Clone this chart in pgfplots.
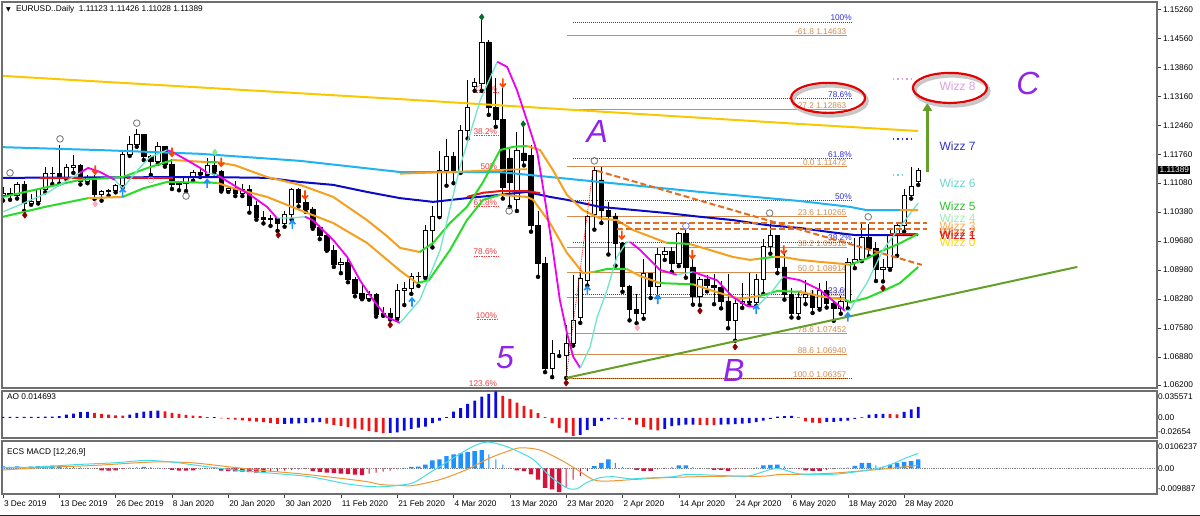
\documentclass[border=0pt]{standalone}
\usepackage{pgfplots}
\pgfplotsset{compat=1.18}
\usepackage{pgfplotstable}
\usepackage{fontspec}
\setmainfont{Liberation Sans}
\newfontfamily\dejavu{DejaVu Sans}
\usetikzlibrary{arrows.meta}

\newcommand{\mtf}{\fontsize{8.3}{10}\selectfont}
\newcommand{\fibf}{\fontsize{8.3}{9}\selectfont}
\newcommand{\wzf}{\fontsize{12}{13}\selectfont}
\newcommand{\bigf}{\fontsize{32}{32}\selectfont\itshape}

\definecolor{maYellow}{RGB}{250,200,0}
\definecolor{maCyan}{RGB}{30,180,240}
\definecolor{maBlue}{RGB}{10,10,200}
\definecolor{maRed}{RGB}{235,20,20}
\definecolor{bandOr}{RGB}{245,160,30}
\definecolor{bandGr}{RGB}{40,220,40}
\definecolor{fastAq}{RGB}{110,230,200}
\definecolor{fastMg}{RGB}{240,0,240}
\definecolor{fibOr}{RGB}{210,140,80}
\definecolor{fibBl}{RGB}{50,50,220}
\definecolor{fibRd}{RGB}{240,60,60}
\definecolor{dashOr}{RGB}{225,110,30}
\definecolor{trendGr}{RGB}{100,160,40}
\definecolor{lblPurple}{RGB}{145,35,235}
\definecolor{aoBlue}{RGB}{10,10,230}
\definecolor{aoRed}{RGB}{240,20,20}
\definecolor{hBlue}{RGB}{30,144,255}
\definecolor{hRed}{RGB}{210,20,60}
\definecolor{mCyan}{RGB}{70,220,230}
\definecolor{mOr}{RGB}{240,150,50}
\definecolor{frameC}{RGB}{110,110,110}
\definecolor{darkRed}{RGB}{140,0,0}
\definecolor{darkGreen}{RGB}{0,110,40}
\definecolor{pinkM}{RGB}{255,170,190}
\definecolor{arrBlue}{RGB}{30,144,255}
\definecolor{arrRed}{RGB}{255,69,0}
\definecolor{wz8}{RGB}{221,160,221}
\definecolor{wz7}{RGB}{50,50,200}
\definecolor{wz6}{RGB}{110,215,210}
\definecolor{wz5}{RGB}{40,200,40}
\definecolor{wz4}{RGB}{160,235,180}
\definecolor{wz3}{RGB}{255,170,80}
\definecolor{wz2}{RGB}{235,100,20}
\definecolor{wz1}{RGB}{220,0,0}
\definecolor{wz0}{RGB}{255,215,0}

\pgfdeclareplotmark{uarr}{%
  \pgfsetlinewidth{1.6pt}%
  \pgfpathmoveto{\pgfqpoint{0pt}{-4.5pt}}\pgfpathlineto{\pgfqpoint{0pt}{3pt}}%
  \pgfpathmoveto{\pgfqpoint{-3pt}{0.5pt}}\pgfpathlineto{\pgfqpoint{0pt}{4pt}}\pgfpathlineto{\pgfqpoint{3pt}{0.5pt}}%
  \pgfusepathqstroke}
\pgfdeclareplotmark{darr}{%
  \pgfsetlinewidth{1.6pt}%
  \pgfpathmoveto{\pgfqpoint{0pt}{4.5pt}}\pgfpathlineto{\pgfqpoint{0pt}{-3pt}}%
  \pgfpathmoveto{\pgfqpoint{-3pt}{-0.5pt}}\pgfpathlineto{\pgfqpoint{0pt}{-4pt}}\pgfpathlineto{\pgfqpoint{3pt}{-0.5pt}}%
  \pgfusepathqstroke}

\pgfplotstableread{
i o h l c
0 1.1078 1.1097 1.1065 1.1082
1 1.1082 1.1096 1.1067 1.1078
2 1.1078 1.1110 1.1070 1.1104
3 1.1104 1.1112 1.1040 1.1058
4 1.1058 1.1080 1.1055 1.1064
5 1.1064 1.1096 1.1058 1.1093
6 1.1093 1.1145 1.1085 1.1130
7 1.1130 1.1145 1.1105 1.1131
8 1.1131 1.1199 1.1106 1.1122
9 1.1122 1.1153 1.1117 1.1144
10 1.1144 1.1175 1.1132 1.1150
11 1.1150 1.1153 1.1104 1.1112
12 1.1112 1.1128 1.1107 1.1121
13 1.1121 1.1127 1.1069 1.1079
14 1.1079 1.1091 1.1065 1.1088
15 1.1088 1.1094 1.1077 1.1089
16 1.1089 1.1104 1.1085 1.1101
17 1.1101 1.1188 1.1097 1.1177
18 1.1177 1.1220 1.1173 1.1200
19 1.1200 1.1239 1.1195 1.1225
20 1.1225 1.1226 1.1163 1.1171
21 1.1171 1.1174 1.1127 1.1160
22 1.1160 1.1206 1.1154 1.1196
23 1.1196 1.1198 1.1147 1.1152
24 1.1152 1.1166 1.1093 1.1105
25 1.1105 1.1113 1.1090 1.1106
26 1.1106 1.1124 1.1088 1.1121
27 1.1121 1.1140 1.1113 1.1134
28 1.1134 1.1143 1.1122 1.1128
29 1.1128 1.1168 1.1125 1.1150
30 1.1150 1.1173 1.1131 1.1136
31 1.1136 1.1139 1.1087 1.1090
32 1.1090 1.1101 1.1086 1.1095
33 1.1095 1.1113 1.1076 1.1082
34 1.1082 1.1104 1.1076 1.1093
35 1.1093 1.1102 1.1036 1.1054
36 1.1054 1.1063 1.1019 1.1025
37 1.1025 1.1039 1.1010 1.1020
38 1.1020 1.1030 1.1004 1.1021
39 1.1021 1.1024 1.0992 1.1011
40 1.1011 1.1040 1.1002 1.1031
41 1.1031 1.1096 1.1019 1.1093
42 1.1093 1.1096 1.1051 1.1060
43 1.1060 1.1068 1.1038 1.1045
44 1.1045 1.1050 1.0997 1.1000
45 1.1000 1.1006 1.0972 1.0980
46 1.0980 1.0987 1.0944 1.0945
47 1.0945 1.0957 1.0905 1.0910
48 1.0910 1.0927 1.0890 1.0915
49 1.0915 1.0925 1.0868 1.0874
50 1.0874 1.0880 1.0834 1.0841
51 1.0841 1.0862 1.0827 1.0830
52 1.0830 1.0847 1.0826 1.0838
53 1.0838 1.0841 1.0785 1.0791
54 1.0791 1.0808 1.0787 1.0792
55 1.0792 1.0806 1.0778 1.0782
56 1.0782 1.0863 1.0779 1.0848
57 1.0848 1.0868 1.0813 1.0853
58 1.0853 1.0891 1.0840 1.0882
59 1.0882 1.0892 1.0859 1.0881
60 1.0881 1.1006 1.0878 1.0994
61 1.0994 1.1053 1.0952 1.1027
62 1.1027 1.1185 1.1025 1.1138
63 1.1138 1.1214 1.1101 1.1172
64 1.1172 1.1182 1.1107 1.1136
65 1.1136 1.1247 1.1132 1.1235
66 1.1235 1.1356 1.1215 1.1290
67 1.1340 1.1362 1.1330 1.1350
68 1.1349 1.1500 1.1330 1.1448
69 1.1448 1.1452 1.1272 1.1289
70 1.1289 1.1361 1.1243 1.1260
71 1.1260 1.1337 1.1070 1.1096
72 1.1168 1.1194 1.1050 1.1110
73 1.1067 1.1230 1.1040 1.1187
74 1.1180 1.1243 1.1150 1.1163
75 1.1175 1.1200 1.0990 1.1006
76 1.1006 1.1040 1.0881 1.0914
77 1.0914 1.0930 1.0651 1.0661
78 1.0661 1.0729 1.0639 1.0697
79 1.0697 1.0705 1.0690 1.0697
80 1.0691 1.0765 1.0637 1.0721
81 1.0721 1.0885 1.0715 1.0777
82 1.0782 1.0890 1.0770 1.0878
83 1.0873 1.1030 1.0860 1.1026
84 1.1032 1.1147 1.0995 1.1139
85 1.1115 1.1146 1.1011 1.1042
86 1.1042 1.1062 1.0935 1.1028
87 1.1028 1.1034 1.0908 1.0962
88 1.0962 1.0964 1.0845 1.0857
89 1.0857 1.0862 1.0776 1.0803
90 1.0803 1.0840 1.0769 1.0793
91 1.0793 1.0925 1.0780 1.0890
92 1.0890 1.0891 1.0830 1.0857
93 1.0857 1.0951 1.0832 1.0935
94 1.0935 1.0952 1.0922 1.0942
95 1.0942 1.0952 1.0893 1.0914
96 1.0914 1.0990 1.0907 1.0985
97 1.0985 1.0993 1.0879 1.0905
98 1.0905 1.0924 1.0814 1.0835
99 1.0835 1.0880 1.0813 1.0876
100 1.0876 1.0886 1.0846 1.0861
101 1.0861 1.0887 1.0815 1.0856
102 1.0856 1.0870 1.0805 1.0823
103 1.0823 1.0887 1.0757 1.0775
104 1.0775 1.0830 1.0727 1.0818
105 1.0818 1.0866 1.0806 1.0823
106 1.0823 1.0890 1.0813 1.0820
107 1.0820 1.0888 1.0811 1.0875
108 1.0875 1.0973 1.0840 1.0955
109 1.0955 1.1019 1.0937 1.0982
110 1.0982 1.0983 1.0890 1.0905
111 1.0905 1.0935 1.0826 1.0838
112 1.0838 1.0855 1.0783 1.0794
113 1.0794 1.0846 1.0782 1.0832
114 1.0832 1.0874 1.0815 1.0838
115 1.0838 1.0850 1.0794 1.0808
116 1.0808 1.0865 1.0802 1.0849
117 1.0849 1.0870 1.0807 1.0817
118 1.0817 1.0823 1.0775 1.0804
119 1.0804 1.0835 1.0792 1.0821
120 1.0821 1.0927 1.0805 1.0915
121 1.0915 1.0975 1.0902 1.0922
122 1.0922 1.1009 1.0919 1.0977
123 1.0977 1.1008 1.0931 1.0950
124 1.0950 1.0965 1.0871 1.0899
125 1.0899 1.0925 1.0870 1.0905
126 1.0905 1.0996 1.0898 1.0980
127 1.0980 1.1009 1.0932 1.1006
128 1.1006 1.1093 1.0990 1.1078
129 1.1078 1.1147 1.1070 1.1100
130 1.11123 1.11426 1.11028 1.11389
}\candles

\pgfplotsset{
  mtbase/.style={scale only axis, width=1155pt, xmin=-0.142, xmax=163.92,
    anchor=south west, clip mode=individual, scaled ticks=false,
    axis line style={draw=frameC, line width=1.2pt},
    tick style={draw=black!75, line width=0.6pt}, tick align=outside,
    yticklabel style={font=\mtf, anchor=west, xshift=-1.5pt},
    xtick=\empty},
  mainy/.style={at={(2pt,128pt)}, height=386pt, ymin=1.06128, ymax=1.15444},
}
\tikzset{
  fo/.style={anchor=south east, inner sep=0.6pt, font=\fibf, text=fibOr},
  fb/.style={anchor=south east, inner sep=0.8pt, font=\fibf, text=fibBl},
  fr/.style={anchor=south east, inner sep=0.6pt, font=\fibf, text=fibRd},
  wz/.style={anchor=west, inner sep=0pt, font=\wzf},
}

\begin{document}
\begin{tikzpicture}[x=1pt,y=1pt]
\useasboundingbox (0,0) rectangle (1200,516);
\fill[white] (0,0) rectangle (1200,516);

% ---------- layer 1: fibonacci objects and wicks
\begin{axis}[mtbase, mainy, hide axis]
\addplot[fibOr, line width=0.8pt] coordinates {(80.1,1.14633) (119.9,1.14633)};
\addplot[fibOr, line width=0.8pt] coordinates {(80.1,1.12863) (119.9,1.12863)};
\addplot[fibOr, line width=0.8pt] coordinates {(80.1,1.11472) (119.9,1.11472)};
\addplot[fibOr, line width=0.8pt] coordinates {(80.1,1.10265) (119.9,1.10265)};
\addplot[fibOr, line width=0.8pt] coordinates {(80.1,1.09518) (119.9,1.09518)};
\addplot[fibOr, line width=0.8pt] coordinates {(80.1,1.08914) (119.9,1.08914)};
\addplot[fibOr, line width=0.8pt] coordinates {(80.1,1.08311) (119.9,1.08311)};
\addplot[fibOr, line width=0.8pt] coordinates {(80.1,1.07452) (119.9,1.07452)};
\addplot[fibOr, line width=0.8pt] coordinates {(80.1,1.06940) (119.9,1.06940)};
\addplot[fibOr, line width=0.8pt] coordinates {(80.1,1.06357) (119.9,1.06357)};
\node[fo] at (axis cs:119.9,1.14633) {-61.8 1.14633};
\node[fo] at (axis cs:119.9,1.12863) {-27.2 1.12863};
\node[fo] at (axis cs:119.9,1.11472) {0.0 1.11472};
\node[fo] at (axis cs:119.9,1.10265) {23.6 1.10265};
\node[fo] at (axis cs:119.9,1.09518) {38.2 1.09518};
\node[fo] at (axis cs:119.9,1.08914) {50.0 1.08914};
\node[fo] at (axis cs:119.9,1.08311) {61.8 1.08311};
\node[fo] at (axis cs:119.9,1.07452) {78.6 1.07452};
\node[fo] at (axis cs:119.9,1.06940) {88.6 1.06940};
\node[fo] at (axis cs:119.9,1.06357) {100.0 1.06357};
\addplot[fibBl, densely dotted, line width=1pt] coordinates {(81,1.1496) (120.7,1.1496)};
\addplot[fibBl, densely dotted, line width=1pt] coordinates {(81,1.1312) (120.7,1.1312)};
\addplot[fibBl, densely dotted, line width=1pt] coordinates {(81,1.1167) (120.7,1.1167)};
\addplot[fibBl, densely dotted, line width=1pt] coordinates {(81,1.1066) (120.7,1.1066)};
\addplot[fibBl, densely dotted, line width=1pt] coordinates {(81,1.0965) (120.7,1.0965)};
\addplot[fibBl, densely dotted, line width=1pt] coordinates {(81,1.0839) (120.7,1.0839)};
\addplot[fibBl, densely dotted, line width=1pt] coordinates {(81,1.0636) (120.7,1.0636)};
\node[fb] at (axis cs:120.7,1.1496) {100\%};
\node[fb] at (axis cs:120.7,1.1312) {78.6\%};
\node[fb] at (axis cs:120.7,1.1167) {61.8\%};
\node[fb] at (axis cs:120.7,1.1066) {50\%};
\node[fb] at (axis cs:120.7,1.0965) {38.2\%};
\node[fb] at (axis cs:120.7,1.0839) {23.6\%};
\node[fr] at (axis cs:70.3,1.13266) {23.6\%};
\node[fr] at (axis cs:70.3,1.12217) {38.2\%};
\node[fr] at (axis cs:70.3,1.11370) {50\%};
\node[fr] at (axis cs:70.3,1.10523) {61.8\%};
\node[fr] at (axis cs:70.3,1.09317) {78.6\%};
\node[fr] at (axis cs:70.3,1.07780) {100\%};
\node[fr] at (axis cs:70.3,1.06140) {123.6\%};
\addplot[fibRd, densely dotted, line width=0.7pt] coordinates {(66.9,1.13266) (70.3,1.13266)};
\addplot[fibRd, densely dotted, line width=0.7pt] coordinates {(66.9,1.12217) (70.3,1.12217)};
\addplot[fibRd, densely dotted, line width=0.7pt] coordinates {(67.9,1.11370) (70.3,1.11370)};
\addplot[fibRd, densely dotted, line width=0.7pt] coordinates {(66.9,1.10523) (70.3,1.10523)};
\addplot[fibRd, densely dotted, line width=0.7pt] coordinates {(66.9,1.09317) (70.3,1.09317)};
\addplot[fibRd, densely dotted, line width=0.7pt] coordinates {(67.3,1.07780) (70.3,1.07780)};
\addplot[only marks, mark=none, error bars/.cd, y dir=plus, y explicit, error mark=none,
  error bar style={draw=black, line width=1pt, solid}]
  table[x=i, y=l, y error expr=\thisrow{h}-\thisrow{l}] {\candles};
\end{axis}

% ---------- layer 2: candle bodies
\begin{axis}[mtbase, mainy, hide axis, ybar stacked, bar width=4.4pt]
\addplot[draw=none, fill=none] table[x=i, y expr={min(\thisrow{o},\thisrow{c})}] {\candles};
\addplot[draw=black, fill=white, line width=0.8pt] table[x=i, y expr={max(\thisrow{c}-\thisrow{o},0)}] {\candles};
\addplot[draw=black, fill=black, line width=0.8pt] table[x=i, y expr={max(\thisrow{o}-\thisrow{c},0)}] {\candles};
\end{axis}

% ---------- layer 3: indicators, annotations, frame, price scale
\begin{axis}[mtbase, mainy, ytick pos=right, yticklabel pos=right, major tick length=4pt,
  ytick={1.062,1.0688,1.0758,1.0828,1.0898,1.0968,1.1038,1.1108,1.1176,1.1246,1.1316,1.1386,1.1456,1.1526},
  yticklabels={1.06200,1.06880,1.07580,1.08280,1.08980,1.09680,1.10380,1.11080,1.11760,1.12460,1.13160,1.13860,1.14560,1.15260}]
\addplot[maYellow, line width=2pt] coordinates {(0,1.1366) (56.4,1.1310) (113.2,1.1250) (130,1.1233)};
\addplot[maCyan, line width=2pt] coordinates {(0,1.1194) (13.8,1.1187) (28,1.1178) (42.2,1.1161) (56.4,1.1134) (70.6,1.1134) (84.8,1.1110) (99,1.1086) (113.2,1.1064) (120.3,1.1050) (122.7,1.1042) (130,1.1042)};
\addplot[bandOr, line width=1.8pt] coordinates {(56.4,1.1130) (63.5,1.1134) (70.6,1.1139) (74.4,1.1141)};
\addplot[maBlue, line width=2pt] coordinates {(0,1.1120) (28,1.1122) (37.5,1.1120) (42.2,1.1110) (46.9,1.1103) (51.7,1.1086) (56.4,1.1071) (61.1,1.1062) (65.9,1.1071) (70.6,1.1079) (74.4,1.1086) (77.7,1.1074) (80.1,1.1067) (84.8,1.1050) (94.3,1.1035) (99,1.1026) (103.7,1.1018) (108.5,1.1006) (113.2,1.0999) (117.5,1.0989) (121,1.0982) (130,1.0982)};
\addplot[maRed, line width=2pt] coordinates {(5.3,1.1119) (11.4,1.1119)};
\addplot[maRed, line width=2pt] coordinates {(17.6,1.1120) (24.1,1.1120)};
\addplot[maRed, line width=2pt] coordinates {(65.9,1.1074) (68.2,1.1084) (70.6,1.1088) (74.4,1.1088) (76.3,1.1083)};
\addplot[maRed, line width=2pt] coordinates {(126,1.0984) (130,1.0984)};
\addplot[bandGr, line width=2pt] coordinates {(0,1.1074) (10.9,1.1115) (17.0,1.1122) (20.9,1.1146) (24.1,1.1163)};
\addplot[bandOr, line width=2pt] coordinates {(24.1,1.1163) (29.0,1.1158)};
\addplot[bandGr, line width=2pt] coordinates {(29.0,1.1158) (30.4,1.1158)};
\addplot[bandOr, line width=2pt] coordinates {(30.4,1.1158) (33,1.1150) (37.5,1.1122) (42.2,1.1103) (46.9,1.1074) (51.7,1.1018) (54.5,1.0980) (56.4,1.0951) (59.2,1.0941)};
\addplot[bandGr, line width=2pt] coordinates {(59.2,1.0941) (61.1,1.0963) (63.5,1.1011) (65.9,1.1050) (68.2,1.1110) (70.6,1.1187) (72.5,1.1195) (74.4,1.1197)};
\addplot[bandOr, line width=2pt] coordinates {(74.4,1.1197) (76.3,1.1187) (78.1,1.1139) (80.1,1.1079) (82.4,1.1042) (84.8,1.1022) (87.2,1.1018) (89.5,1.0994) (94.3,1.0963)};
\addplot[bandGr, line width=2pt] coordinates {(94.3,1.0963) (96,1.0962) (97.6,1.0960)};
\addplot[bandOr, line width=2pt] coordinates {(97.6,1.0960) (99,1.0953) (103.7,1.0929) (106.1,1.0922) (107.5,1.0925)};
\addplot[bandGr, line width=2pt] coordinates {(107.5,1.0925) (109.4,1.0929)};
\addplot[bandOr, line width=2pt] coordinates {(109.4,1.0929) (110.8,1.0929) (113.2,1.0922) (116.1,1.0917) (119.6,1.0912) (120.3,1.0910)};
\addplot[bandGr, line width=2pt] coordinates {(120.3,1.0910) (122.7,1.0925) (124.6,1.0942) (127.4,1.0962) (130,1.0985)};
\addplot[bandGr, line width=2pt] coordinates {(0,1.1026) (6,1.1050) (12.1,1.1071)};
\addplot[bandOr, line width=2pt] coordinates {(12.1,1.1071) (17.0,1.1074)};
\addplot[bandGr, line width=2pt] coordinates {(17.0,1.1074) (20,1.1095) (23.3,1.1110) (30.4,1.1108)};
\addplot[bandOr, line width=2pt] coordinates {(30.4,1.1108) (32.7,1.1095) (37.5,1.1074) (42.2,1.1042) (46.9,1.1011) (51.7,1.0963) (56.4,1.0896) (58.8,1.0866)};
\addplot[bandGr, line width=2pt] coordinates {(58.8,1.0866) (60.5,1.0873) (63.5,1.0946) (65.9,1.1018) (68.2,1.1067) (70.6,1.1079)};
\addplot[bandOr, line width=2pt] coordinates {(70.6,1.1079) (74.4,1.1074) (75.3,1.1067) (77.7,1.1011) (80.1,1.0939) (82.4,1.0890) (84,1.0893)};
\addplot[bandGr, line width=2pt] coordinates {(84,1.0893) (85.8,1.0900) (88.6,1.0900)};
\addplot[bandOr, line width=2pt] coordinates {(88.6,1.0900) (90.5,1.0883) (93.3,1.0866)};
\addplot[bandGr, line width=2pt] coordinates {(93.3,1.0866) (98,1.0863)};
\addplot[bandOr, line width=2pt] coordinates {(98,1.0863) (101.8,1.0842) (104.7,1.0828) (107.5,1.0835)};
\addplot[bandGr, line width=2pt] coordinates {(107.5,1.0835) (110,1.0847) (113.2,1.0845)};
\addplot[bandOr, line width=2pt] coordinates {(113.2,1.0845) (116.1,1.0834) (119.6,1.0826)};
\addplot[bandGr, line width=2pt] coordinates {(119.6,1.0826) (120.3,1.0820) (122.7,1.0830) (125.0,1.0847) (127.4,1.0866) (130,1.0905)};
\addplot[fastAq, line width=1.3pt] coordinates {(0,1.1038) (2.4,1.1055) (6.2,1.1083) (10.9,1.1132)};
\addplot[fastMg, line width=1.8pt] coordinates {(10.9,1.1132) (12.1,1.1144) (13.8,1.1134) (15.9,1.1115)};
\addplot[fastAq, line width=1.3pt] coordinates {(15.9,1.1115) (17.0,1.1095) (19.5,1.1146) (20.9,1.1170) (23.3,1.1187)};
\addplot[fastMg, line width=1.8pt] coordinates {(23.3,1.1187) (24.1,1.1182) (26.1,1.1163) (28.0,1.1144) (29.0,1.1132)};
\addplot[fastAq, line width=1.3pt] coordinates {(29.0,1.1132) (30.4,1.1127)};
\addplot[fastMg, line width=1.8pt] coordinates {(30.4,1.1127) (32.7,1.1103) (35.1,1.1079) (37.5,1.1050) (38.9,1.1023)};
\addplot[fastAq, line width=1.3pt] coordinates {(38.9,1.1023) (40.8,1.1023) (42.9,1.1026)};
\addplot[fastMg, line width=1.8pt] coordinates {(42.9,1.1026) (44.0,1.1018) (46.9,1.0970) (48.9,1.0929) (50.7,1.0873) (52.6,1.0825) (54.5,1.0784) (56.4,1.0770)};
\addplot[fastAq, line width=1.3pt] coordinates {(56.4,1.0770) (59.2,1.0825) (62.1,1.0946) (64.9,1.1146) (67.8,1.1308) (70.2,1.1400)};
\addplot[fastMg, line width=1.8pt] coordinates {(70.2,1.1400) (71.6,1.1388) (73.0,1.1332) (74.4,1.1260) (75.9,1.1180) (76.7,1.1098) (78.1,1.0946) (79.1,1.0825) (80.1,1.0746) (81.0,1.0688) (82.0,1.0661)};
\addplot[fastAq, line width=1.3pt] coordinates {(82.0,1.0661) (83.4,1.0712) (84.4,1.0784) (85.8,1.0849) (87.2,1.0929) (88.6,1.0965) (89.1,1.0965)};
\addplot[fastMg, line width=1.8pt] coordinates {(89.1,1.0965) (90.5,1.0946) (93.3,1.0898) (95.7,1.0886)};
\addplot[fastAq, line width=1.3pt] coordinates {(95.7,1.0886) (98.0,1.0893)};
\addplot[fastMg, line width=1.8pt] coordinates {(98.0,1.0893) (101.4,1.0873) (103.7,1.0832) (105.7,1.0811) (107.0,1.0808)};
\addplot[fastAq, line width=1.3pt] coordinates {(107.0,1.0808) (109.4,1.0849) (110.8,1.0881)};
\addplot[fastMg, line width=1.8pt] coordinates {(110.8,1.0881) (113.2,1.0873) (116.1,1.0849) (119.6,1.0799)};
\addplot[fastAq, line width=1.3pt] coordinates {(119.6,1.0799) (120.3,1.0801) (122.7,1.0866) (125.0,1.0946) (127.4,1.1001) (130.0,1.1059)};
\addplot[trendGr, line width=2pt] coordinates {(80.0,1.0637) (152.6,1.0905)};
\addplot[dashOr, line width=2pt, dash pattern=on 6pt off 3pt] coordinates {(84.4,1.1137) (130.5,1.0910)};
\addplot[dashOr, line width=2pt, dash pattern=on 6pt off 3pt] coordinates {(87.2,1.1011) (131.3,1.1011)};
\addplot[dashOr, line width=2pt, dash pattern=on 6pt off 3pt] coordinates {(87.2,1.0997) (131.3,1.0997)};
\addplot[red, line width=0.8pt, densely dotted] coordinates {(80.0,1.0637) (83.8,1.1139)};
\addplot[wz8, line width=1.5pt, dash pattern=on 1.5pt off 3pt] coordinates {(126.4,1.1359) (129.1,1.1359)};
\addplot[wz7, line width=1.5pt, dash pattern=on 1.5pt off 3pt] coordinates {(126.4,1.1214) (129.1,1.1214)};
\addplot[wz6, line width=1.5pt, dash pattern=on 1.5pt off 3pt] coordinates {(126.4,1.1127) (128.2,1.1127)};
\addplot[bandOr, line width=1.5pt] coordinates {(127.4,1.1042) (130.0,1.1042)};
\addplot[only marks, mark=o, mark size=3.3pt, draw=gray, mark options={line width=0.9pt}] coordinates {(1.0,1.1132) (8.1,1.1214) (19.0,1.1252) (26.0,1.1076) (71.9,1.1040) (84.0,1.1161) (108.9,1.1035) (122.9,1.1026)};
\addplot[only marks, mark=o, mark size=3.3pt, draw={rgb,255:red,130;green,130;blue,230}, mark options={line width=0.9pt}] coordinates {(97.0,1.1004)};
\addplot[only marks, mark=diamond*, mark size=3.2pt, color=darkRed] coordinates {(3.1,1.1030) (39.1,1.0982) (55.0,1.0765) (80.0,1.0625) (99.0,1.0799) (104.0,1.0712) (125.0,1.0854)};
\addplot[only marks, mark=diamond*, mark size=3.2pt, color=darkGreen] coordinates {(68.0,1.1508) (73.9,1.1250)};
\addplot[only marks, mark=diamond*, mark size=3.2pt, color=pinkM] coordinates {(13.1,1.1057) (90.1,1.0758)};
\addplot[only marks, mark=diamond*, mark size=3.2pt, color={rgb,255:red,140;green,230;blue,140}] coordinates {(30.1,1.1182)};
\addplot[only marks, mark=o, mark size=3pt, color=pinkM] coordinates {(21.0,1.1115)};
\addplot[only marks, mark=uarr, color=arrBlue] coordinates {(17.0,1.1084) (29.0,1.1106) (41.1,1.1007) (58.1,1.0820) (83.0,1.0848) (93.0,1.0826) (107.0,1.0802) (120.0,1.0784)};
\addplot[only marks, mark=darr, color=arrRed] coordinates {(13.1,1.1139) (24.0,1.1182) (31.0,1.1158) (42.9,1.1079) (71.0,1.1349) (87.9,1.0982) (97.9,1.0935) (110.9,1.0946)};
\addplot[trendGr, line width=3pt, -{Triangle[length=8pt,width=9pt]}] coordinates {(131.3,1.1134) (131.3,1.1301)};
\draw[black!22, line width=3.5pt] ([xshift=2pt,yshift=-3pt]axis cs:117.2,1.1313) ellipse [x radius=37pt, y radius=15pt];
\draw[red!90!black, line width=2.2pt] (axis cs:117.2,1.1313) ellipse [x radius=37pt, y radius=15pt];
\draw[black!22, line width=3.5pt] ([xshift=2pt,yshift=-3pt]axis cs:134.5,1.1337) ellipse [x radius=37pt, y radius=15pt];
\draw[red!90!black, line width=2.2pt] (axis cs:134.5,1.1337) ellipse [x radius=37pt, y radius=15pt];
\node[font=\bigf, text=lblPurple] at (axis cs:84.4,1.1233) {A};
\node[font=\bigf, text=lblPurple] at (axis cs:103.8,1.0654) {B};
\node[font=\bigf, text=lblPurple] at (axis cs:71.3,1.0685) {5};
\node[font=\bigf, text=lblPurple] at (axis cs:145.6,1.1347) {C};
\node[wz, text=wz8] at (axis cs:133.0,1.1342) {Wizz 8};
\node[wz, text=wz7] at (axis cs:133.0,1.1197) {Wizz 7};
\node[wz, text=wz6] at (axis cs:133.0,1.1108) {Wizz 6};
\node[wz, text=wz5] at (axis cs:133.0,1.1052) {Wizz 5};
\node[wz, text=wz4] at (axis cs:133.0,1.1023) {Wizz 4};
\node[wz, text=wz3] at (axis cs:133.0,1.1003) {Wizz 3};
\node[wz, text=wz0] at (axis cs:133.0,1.0965) {Wizz 0};
\node[wz, text=wz2] at (axis cs:133.0,1.0990) {Wizz 2};
\node[wz, text=wz1] at (axis cs:133.0,1.0982) {Wizz 1};
\node[anchor=west, fill=black, text=white, font=\mtf, inner sep=1.4pt, xshift=1pt] at (axis cs:163.92,1.11389) {1.11389};
\end{axis}

% ---------- AO panel
\begin{axis}[mtbase, at={(2pt,78pt)}, height=47pt, ymin=-0.02654, ymax=0.035571,
  ytick pos=right, yticklabel pos=right, major tick length=2pt, ytick style={draw=none},
  yticklabel style={xshift=-3pt},
  ytick={-0.0185,0,0.0277}, yticklabels={-0.02654,0.00,0.035571}]
\addplot[ybar, bar shift=0pt, bar width=2.8pt, fill=aoBlue, draw=none] coordinates {(0,0.0015)(1,0.0014)(2,0.0015)(3,0.0013)(4,0.0014)(5,0.0015)(6,0.0016)(7,0.0017)(8,0.0022)(9,0.0044)(10,0.0057)(11,0.0075)(12,0.0079)(18,0.0044)(19,0.0066)(20,0.0084)(21,0.0092)(22,0.0097)(30,0.0012)(40,-0.0079)(41,-0.0077)(42,-0.0073)(43,-0.0066)(44,-0.0058)(45,-0.0055)(55,-0.0198)(56,-0.0190)(57,-0.0167)(58,-0.0145)(59,-0.0128)(60,-0.0114)(61,-0.0070)(62,-0.0035)(63,0.0010)(64,0.0084)(65,0.0128)(66,0.0185)(67,0.0229)(68,0.0282)(69,0.0317)(70,0.0350)(82,-0.0225)(83,-0.0158)(84,-0.0106)(85,-0.0040)(86,-0.0018)(87,-0.0010)(88,-0.0008)(94,-0.0145)(95,-0.0110)(96,-0.0097)(97,-0.0090)(98,-0.0088)(102,-0.0088)(103,-0.0085)(104,-0.0082)(105,-0.0075)(106,-0.0068)(107,-0.0055)(108,-0.0035)(109,-0.0013)(110,0.0018)(111,0.0024)(112,0.0026)(117,-0.0053)(118,-0.0052)(119,-0.0044)(120,-0.0035)(121,-0.0013)(122,0.0008)(123,0.0044)(124,0.0050)(125,0.0053)(128,0.0079)(129,0.0114)(130,0.0147)};
\addplot[ybar, bar shift=0pt, bar width=2.8pt, fill=aoRed, draw=none] coordinates {(13,0.0066)(14,0.0053)(15,0.0044)(16,0.0035)(17,0.0031)(23,0.0088)(24,0.0066)(25,0.0053)(26,0.0040)(27,0.0031)(28,0.0022)(29,0.0010)(31,-0.0006)(32,-0.0013)(33,-0.0022)(34,-0.0031)(35,-0.0040)(36,-0.0048)(37,-0.0057)(38,-0.0066)(39,-0.0080)(46,-0.0075)(47,-0.0092)(48,-0.0110)(49,-0.0123)(50,-0.0141)(51,-0.0154)(52,-0.0170)(53,-0.0189)(54,-0.0202)(71,0.0290)(72,0.0251)(73,0.0202)(74,0.0158)(75,0.0114)(76,0.0062)(77,0.0009)(78,-0.0070)(79,-0.0136)(80,-0.0194)(81,-0.0238)(89,-0.0030)(90,-0.0090)(91,-0.0120)(92,-0.0155)(93,-0.0165)(99,-0.0092)(100,-0.0094)(101,-0.0096)(113,0.0006)(114,-0.0045)(115,-0.0062)(116,-0.0064)(126,0.0050)(127,0.0046)};
\node[anchor=north west, font=\mtf, inner sep=0pt, xshift=5pt, yshift=-3pt] at (rel axis cs:0,1) {AO 0.014693};
\end{axis}

% ---------- MACD panel
\begin{axis}[mtbase, at={(2pt,22pt)}, height=53pt, ymin=-0.009887, ymax=0.0106237,
  ytick pos=right, yticklabel pos=right, ytick style={draw=none}, major tick length=4pt,
  yticklabel style={xshift=-5pt},
  ytick={-0.00797,0,0.00828}, yticklabels={-0.009887,0.00,0.0106237},
  xtick={0,8,...,128}, xtick pos=bottom,
  xticklabels={3 Dec 2019,13 Dec 2019,26 Dec 2019,8 Jan 2020,20 Jan 2020,30 Jan 2020,11 Feb 2020,21 Feb 2020,4 Mar 2020,13 Mar 2020,23 Mar 2020,2 Apr 2020,14 Apr 2020,24 Apr 2020,6 May 2020,18 May 2020,28 May 2020},
  xticklabel style={anchor=north west, font=\mtf, xshift=-2.5pt, yshift=1pt}]
\addplot[gray, densely dotted, line width=0.8pt] coordinates {(-0.142,0) (163.92,0)};
\addplot[ybar, bar shift=0pt, bar width=4.4pt, fill=hBlue, draw=none] coordinates {(0,0.0008)(1,0.0006)(2,0.0008)(4,0.0007)(5,0.0009)(6,0.0010)(7,0.0011)(8,0.0010)(20,0.0006)(58,0.0006)(59,0.0007)(60,0.0015)(61,0.0031)(62,0.0035)(63,0.0048)(64,0.0054)(65,0.0058)(66,0.0063)(67,0.0067)(68,0.0071)(84,0.0009)(85,0.0022)(86,0.0035)(96,0.0012)(97,0.0012)(108,0.0012)(109,0.0014)(110,0.0015)(121,0.0010)(122,0.0022)(123,0.0022)(126,0.0015)(127,0.0022)(128,0.0025)(129,0.0028)(130,0.0035)};
\addplot[ybar, bar shift=0pt, bar width=1pt, fill=hBlue, draw=none] coordinates {(3,0.0005)(9,0.0008)(10,0.0006)(11,0.0004)(12,0.0002)(18,0.0003)(19,0.0005)(21,0.0005)(22,0.0003)(57,0.0002)(69,0.0054)(70,0.0035)(71,0.0015)(72,0.0002)(87,0.0022)(88,0.0006)(89,0.0002)(95,0.0006)(98,0.0006)(99,0.0002)(106,0.0001)(107,0.0004)(111,0.0008)(112,0.0002)(119,0.0002)(120,0.0004)(124,0.0012)(125,0.0008)};
\addplot[ybar, bar shift=0pt, bar width=4.4pt, fill=hRed, draw=none] coordinates {(14,-0.0007)(15,-0.0008)(16,-0.0007)(24,-0.0006)(25,-0.0008)(26,-0.0008)(27,-0.0007)(31,-0.0008)(32,-0.0010)(33,-0.0011)(34,-0.0012)(35,-0.0014)(36,-0.0016)(37,-0.0016)(44,-0.0010)(45,-0.0013)(46,-0.0016)(47,-0.0018)(48,-0.0020)(49,-0.0022)(50,-0.0024)(51,-0.0026)(73,-0.0007)(74,-0.0010)(75,-0.0023)(76,-0.0043)(77,-0.0075)(78,-0.0081)(79,-0.0092)(90,-0.0006)(91,-0.0009)(92,-0.0009)(101,-0.0006)(102,-0.0006)(103,-0.0009)(114,-0.0007)(115,-0.0009)(116,-0.0009)};
\addplot[ybar, bar shift=0pt, bar width=1pt, fill=hRed, draw=none] coordinates {(13,-0.0002)(17,-0.0003)(23,-0.0003)(28,-0.0005)(29,-0.0003)(30,-0.0002)(38,-0.0012)(39,-0.0010)(40,-0.0008)(41,-0.0006)(42,-0.0004)(43,-0.0003)(52,-0.0020)(53,-0.0016)(54,-0.0012)(55,-0.0008)(56,-0.0004)(80,-0.0075)(81,-0.0043)(82,-0.0030)(83,-0.0010)(93,-0.0004)(94,-0.0002)(100,-0.0003)(104,-0.0004)(105,-0.0002)(113,-0.0003)(117,-0.0006)(118,-0.0003)};
\addplot[mOr, line width=1pt, smooth] coordinates {(0,-0.0006)(6,0.0004)(13.2,0.0012)(21.3,0.0025)(26.8,0.0022)(32.2,0.0006)(37,-0.0008)(43,-0.0023)(51.2,-0.0049)(53.6,-0.0062)(56.6,-0.0066)(58.3,-0.0066)(62.1,-0.0043)(65.9,-0.0004)(69.2,0.0041)(72.5,0.0074)(73.9,0.0080)(76.3,0.0071)(79.1,0.0035)(81.5,-0.0004)(83.8,-0.0043)(85.7,-0.0049)(89.5,-0.0043)(93.8,-0.0036)(98.5,-0.0032)(103.3,-0.0030)(108,-0.0030)(110.4,-0.0023)(113,-0.0023)(117.4,-0.0019)(121.7,-0.0010)(125.5,-0.0001)(130,0.0012)};
\addplot[mCyan, line width=1pt, smooth] coordinates {(0,0.0003)(5,0.0006)(10.5,0.0015)(15.9,0.0022)(20.2,0.0031)(24,0.0025)(26.7,0.0015)(32.2,-0.0004)(37.6,-0.0017)(43,-0.0030)(45.8,-0.0043)(48.5,-0.0058)(51.2,-0.0068)(53.6,-0.0071)(56,-0.0066)(58.3,-0.0055)(60.7,-0.0015)(62.5,0.0015)(64.4,0.0048)(66.8,0.0086)(68.7,0.0102)(70.6,0.0093)(72.5,0.0074)(75.3,0.0035)(77.7,-0.0030)(80.1,-0.0075)(81.5,-0.0079)(82.9,-0.0055)(84.8,-0.0036)(86.7,-0.0032)(89.1,-0.0040)(91.4,-0.0037)(95.2,-0.0032)(97.1,-0.0023)(100.9,-0.0026)(105.6,-0.0030)(107.5,-0.0017)(109,-0.0004)(110.4,-0.0001)(113.1,-0.0021)(117.4,-0.0023)(120.1,-0.0017)(124,-0.0001)(126.1,0.0015)(128.3,0.0041)(130,0.0058)};
\node[anchor=north west, font=\mtf, inner sep=0pt, xshift=5pt, yshift=-7pt] at (rel axis cs:0,1) {ECS MACD [12,26,9]};
\end{axis}

\node[font=\dejavu\fontsize{6}{6}\selectfont, inner sep=0pt] at (8.5pt,506.5pt) {▼};
\node[anchor=west, font=\mtf, inner sep=0pt] at (16pt,506.5pt) {EURUSD..Daily\ \ 1.11123 1.11426 1.11028 1.11389};
\fill[black!85] (0,0) rectangle (1200,1.3);
\end{tikzpicture}
\end{document}
